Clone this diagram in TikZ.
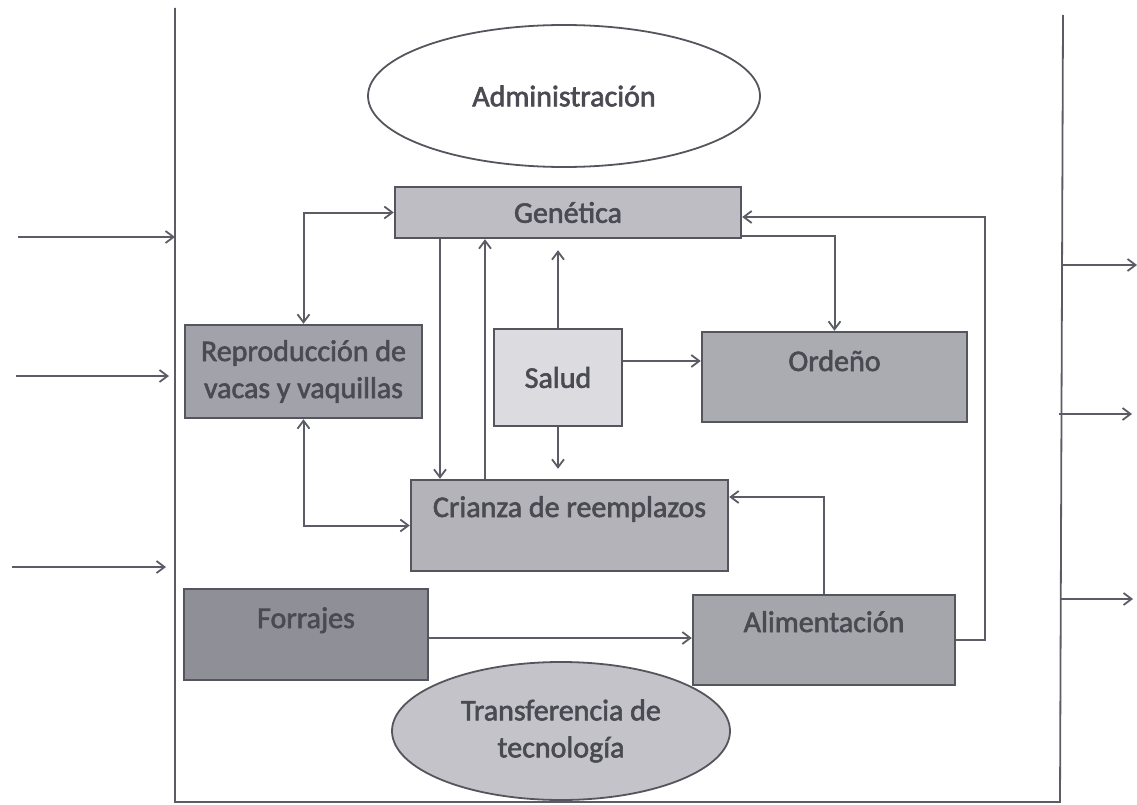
\documentclass[tikz,border=0pt]{standalone}
\usepackage{fontspec}
\setmainfont{Carlito}[FakeBold=2]
\usetikzlibrary{arrows.meta,shapes.geometric}
\definecolor{ink}{HTML}{4A4A52}
\definecolor{edge}{HTML}{55555D}
\definecolor{wire}{HTML}{5C5C66}
\definecolor{fgen}{HTML}{BDBDC3}
\definecolor{frep}{HTML}{A2A2AA}
\definecolor{fsal}{HTML}{DCDCE0}
\definecolor{ford}{HTML}{ABABB2}
\definecolor{fcri}{HTML}{B3B3B9}
\definecolor{ffor}{HTML}{8F8F97}
\definecolor{fali}{HTML}{A5A5AC}
\definecolor{ftra}{HTML}{C3C3C9}
\begin{document}
\begin{tikzpicture}[x=1pt,y=-1pt,
  every node/.style={font=\fontsize{30}{37}\selectfont, text=ink},
  block/.style={draw=edge, line width=2.4pt, rectangle, inner xsep=4pt, inner ysep=0pt},
  topblock/.style={block, anchor=base},
  oval/.style={draw=edge, line width=1.8pt, ellipse, inner sep=0pt, align=center},
  link/.style={draw=wire, line width=2pt, -{Straight Barb[length=8pt,width=12pt,line width=1.8pt]}},
  bilink/.style={draw=wire, line width=2pt, {Straight Barb[length=8pt,width=12pt,line width=1.8pt]}-{Straight Barb[length=8pt,width=12pt,line width=1.8pt]}},
  frame/.style={draw=wire, line width=1.8pt}
]
\useasboundingbox (0,0) rectangle (1137,805);

% system boundary
\coordinate (fl1) at (175,8);
\coordinate (fl2) at (175,802);
\coordinate (fr2) at (1060,802);
\coordinate (fr1) at (1063,15);
\draw[frame] (fl1) -- (fl2) -- (fr2) -- (fr1);

% ovals
\node[oval, fill=white, minimum width=392pt, minimum height=142pt] (adm) at (564,96) {Administración};
\node[oval, fill=ftra, minimum width=338pt, minimum height=138pt] (tra) at (561,731) {Transferencia de\\tecnología};

% blocks
\node[block, fill=fgen, minimum width=346pt, minimum height=51pt] (gen) at (568,212.5) {Genética};
\node[block, fill=frep, minimum width=237pt, minimum height=93pt, align=center] (rep) at (303.5,371.5) {Reproducción de\\vacas y vaquillas};
\node[block, fill=fsal, minimum width=128pt, minimum height=97pt] (sal) at (558,377.5) {Salud};
\node[topblock, fill=ford, minimum width=265pt, text height=39pt, text depth=51pt] (ord) at (834.5,371) {Ordeño};
\node[topblock, fill=fcri, minimum width=317pt, text height=37pt, text depth=54pt] (cri) at (569.5,517) {Crianza de reemplazos};
\node[topblock, fill=ffor, minimum width=244pt, text height=39pt, text depth=52pt] (for) at (306,628) {Forrajes};
\node[topblock, fill=fali, minimum width=262pt, text height=37pt, text depth=53pt] (ali) at (824,632) {Alimentación};

% helper positions for the connectors
\coordinate (xdown) at (440,0);
\coordinate (xup) at (485,0);
\coordinate (yso) at (0,361);
\coordinate (ygo) at (0,236);
\coordinate (yac) at (0,497);
\coordinate (yag) at (0,217);
\coordinate (xag) at (985,0);
\coordinate (yfa) at (0,638);

% connectors inside the system
\draw[bilink] (rep.north) |- (gen.west);
\draw[bilink] (rep.south) |- (cri.west);
\draw[link] (gen.south -| xdown) -- (cri.north -| xdown);
\draw[link] (cri.north -| xup) -- (gen.south -| xup);
\draw[link, shorten >=11pt] (sal.north) -- (gen.south -| sal.north);
\draw[link, shorten >=10pt] (sal.south) -- (cri.north -| sal.south);
\draw[link] (sal.east |- yso) -- (ord.west |- yso);
\draw[link] (gen.east |- ygo) -| (ord.north);
\draw[link] (ali.north) |- (cri.east |- yac);
\draw[link] (ali.east) -| (xag |- yag) -- (gen.east |- yag);
\draw[link] (for.east |- yfa) -- (ali.west |- yfa);

% inputs
\coordinate (i1) at (18,237);
\coordinate (i2) at (16,376);
\coordinate (i3) at (12,567);
\draw[link] (i1) -- (i1 -| fl1);
\draw[link] (i2) -- ([xshift=-6pt]i2 -| fl1);
\draw[link] (i3) -- ([xshift=-9pt]i3 -| fl1);

% outputs
\coordinate (o1) at (1137,265);
\coordinate (o2) at (1132,414);
\coordinate (o3) at (1133,599);
\draw[link] (o1 -| fr1) -- (o1);
\draw[link] ([xshift=-4pt]o2 -| fr1) -- (o2);
\draw[link] ([xshift=-2pt]o3 -| fr1) -- (o3);
\end{tikzpicture}
\end{document}
